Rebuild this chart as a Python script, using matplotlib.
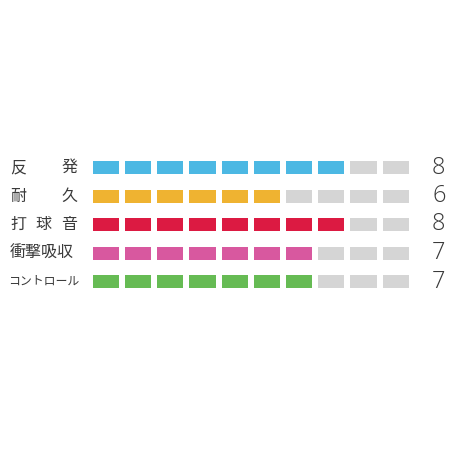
import matplotlib
matplotlib.use("Agg")
import matplotlib.pyplot as plt
import numpy as np

labels = ["反発", "耐久", "打球音", "衝撃吸収", "コントロール"]
values = [8, 6, 8, 7, 7]
max_value = 10
colors = ["#4cb8e3", "#efb331", "#dc1a42", "#d8589f", "#66bb54"]
empty_color = "#d5d5d5"
text_color = "#3a3a3a"

fig = plt.figure(figsize=(4.5, 4.5), dpi=100)
ax = fig.add_axes([0, 0, 1, 1])
# pixel layout: segment 0 starts at 92.7px, pitch 32.2px; row 0 center 167.5px, pitch 28.5px
px, x0 = 32.2, 92.7
py, y0 = 28.5, 167.5
ax.set_xlim(-x0 / px, (450 - x0) / px)
ax.set_ylim((450 - y0) / py, -y0 / py)
ax.axis("off")

seg_w = 26.3 / px
seg_h = 13 / py
idx = np.arange(max_value)
for r, (v, c) in enumerate(zip(values, colors)):
    cols = [c if i < v else empty_color for i in idx]
    ax.barh([r] * max_value, [seg_w] * max_value, left=idx, height=seg_h,
            color=cols, align="center", linewidth=0)
    ax.text((432 - x0) / px, r, str(v), fontsize=17, color=text_color,
            family=["Open Sans", "DejaVu Sans"], fontweight="light",
            ha="left", va="center")

jp = ["Noto Sans CJK JP", "DejaVu Sans"]
lx0 = (10 - x0) / px
lx1 = (77.5 - x0) / px
for r, lab in enumerate(labels):
    n = len(lab)
    if n == 4:
        ax.text(lx0, r, lab, fontsize=11.5, color=text_color, family=jp,
                ha="left", va="center")
    elif n < 4:
        cw = 16.9 / px
        span = lx1 - lx0 - cw
        for k, ch in enumerate(lab):
            xc = lx0 + cw / 2 + span * k / (n - 1)
            ax.text(xc, r, ch, fontsize=11.5, color=text_color, family=jp,
                    ha="center", va="center")
    else:
        ax.text((lx0 + lx1) / 2, r, lab, fontsize=8.6, color=text_color,
                family=jp, ha="center", va="center")

fig.savefig("out.png", dpi=100, facecolor="white")
